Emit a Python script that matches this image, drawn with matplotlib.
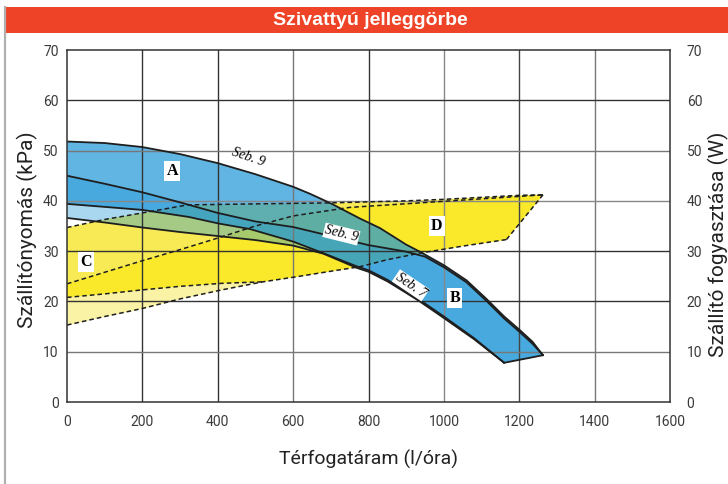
import matplotlib
matplotlib.use("Agg")
import matplotlib.pyplot as plt
from matplotlib.patches import Rectangle
from matplotlib.lines import Line2D

# ---------------- data ----------------
x_ticks = [0, 200, 400, 600, 800, 1000, 1200, 1400, 1600]
y_ticks = [0, 10, 20, 30, 40, 50, 60, 70]

# pump pressure curves (kPa)
h1_x = [0, 100, 200, 300, 400, 500, 600, 645, 700, 777, 830, 900, 936, 1000, 1060, 1113, 1160, 1200, 1235, 1263]
h1_y = [51.8, 51.5, 50.7, 49.3, 47.5, 45.3, 42.8, 41.4, 39.5, 36.5, 34.6, 31.3, 29.9, 27.2, 24.2, 20.5, 17.0, 14.4, 12.0, 9.3]
h2_x = [0, 100, 200, 300, 400, 500, 600, 700, 800, 900, 950, 1000, 1060, 1113, 1160, 1200, 1235, 1263]
h2_y = [45.0, 43.4, 41.7, 39.7, 37.6, 35.9, 34.8, 33.0, 31.2, 29.9, 28.9, 26.8, 23.8, 20.1, 16.6, 14.0, 11.6, 9.3]
l3_x = [0, 100, 200, 323, 402, 485, 600, 680, 768, 800, 850, 900, 936, 1000, 1080, 1160]
l3_y = [39.4, 38.8, 38.2, 36.8, 35.5, 34.4, 31.9, 29.6, 27.0, 26.2, 24.3, 22.0, 20.3, 17.0, 12.7, 7.8]
l4_x = [0, 100, 200, 300, 400, 500, 600, 680, 768, 800, 850, 900, 936, 1000, 1080, 1160]
l4_y = [36.6, 35.7, 34.7, 33.8, 33.0, 32.2, 31.1, 29.5, 26.7, 25.9, 24.0, 21.7, 20.0, 16.7, 12.5, 7.8]

# power consumption curves (W)
t_x = [0, 100, 200, 320, 500, 700, 900, 1000, 1100, 1200, 1263]
t_y = [34.7, 36.3, 37.6, 39.2, 39.4, 39.6, 40.0, 40.3, 40.7, 41.1, 41.2]
d1_x = [0, 100, 200, 300, 400, 500, 600, 750, 936, 1100, 1263]
d1_y = [23.5, 25.8, 28.1, 30.3, 32.6, 35.0, 37.0, 38.7, 39.6, 40.4, 41.2]
d2_x = [0, 100, 200, 300, 411, 520]
d2_y = [20.8, 21.5, 22.3, 23.0, 23.6, 23.9]
lb_x = [0, 100, 200, 300, 411, 520, 600, 700, 777, 850, 936, 1050, 1166]
lb_y = [15.3, 17.0, 18.6, 20.5, 22.3, 23.9, 24.8, 26.0, 26.9, 28.3, 29.6, 31.0, 32.3]

region_labels = ["A", "B", "C", "D"]
region_pos = [(279, 45.9), (1029, 20.7), (50, 27.8), (981, 35.0)]
seb_labels = ["Seb. 9", "Seb. 9", "Seb. 7"]
seb_pos = [(480, 48.6), (728, 33.4), (912, 23.2)]
seb_rot = [-19, -14, -34]
seb_box = [False, True, True]

# ---------------- figure ----------------
W, H = 728, 484
fig = plt.figure(figsize=(W / 100, H / 100), dpi=100)
fig.patch.set_facecolor("white")

# header bar and frame
fig.patches.append(Rectangle((5 / W, 1 - 33 / H), 1 - 5 / W, 26 / H, transform=fig.transFigure,
                             facecolor="#ee4326", edgecolor="none", zorder=0))
fig.lines.append(Line2D([5 / W, 5 / W], [0, 1 - 7 / H], transform=fig.transFigure,
                        color="#b0b0b0", lw=1.6))
fig.text(370 / W, 1 - 20.5 / H, "Szivattyú jelleggörbe", color="white", fontsize=14,
         fontweight="bold", family="Liberation Sans", ha="center", va="center")

ax = fig.add_axes([67 / W, 1 - 402 / H, (670 - 67) / W, (402 - 50) / H])
ax.set_xlim(0, 1600)
ax.set_ylim(0, 70)

# grid (drawn above fills, below curves)
vcols = ["#333333", "#333333", "#777777", "#333333", "#888888", "#444444", "#777777"]
for xv, c in zip(x_ticks[1:-1], vcols):
    ax.axvline(xv, color=c, lw=1.0, zorder=3)
hcols = ["#777777", "#333333", "#333333", "#888888", "#777777", "#333333"]
for yv, c in zip(y_ticks[1:-1], hcols):
    ax.axhline(yv, color=c, lw=1.0, zorder=3)

# yellow power regions
light_y = "#f7ea55"
bright_y = "#f9e92a"
pale_y = "#faf2a4"
ax.fill(t_x + [1166] + lb_x[::-1], t_y + [32.3] + lb_y[::-1], color=light_y, lw=0, zorder=1)
i520 = lb_x.index(520)
ax.fill(d1_x + lb_x[i520:][::-1] + d2_x[::-1], d1_y + lb_y[i520:][::-1] + d2_y[::-1],
        color=bright_y, lw=0, zorder=1.1)
ax.fill(d2_x + lb_x[:i520 + 1][::-1], d2_y + lb_y[:i520 + 1][::-1], color=pale_y, lw=0, zorder=1.2)

# blue pressure regions (semi transparent)
blue = (30 / 255, 150 / 255, 215 / 255)
ax.fill(h1_x + h2_x[::-1], h1_y + h2_y[::-1], color=blue, alpha=0.70, lw=0, zorder=2)
ax.fill(h2_x + l3_x[::-1], h2_y + l3_y[::-1], color=blue, alpha=0.82, lw=0, zorder=2)
ax.fill(l3_x + l4_x[::-1], l3_y + l4_y[::-1], color=blue, alpha=0.38, lw=0, zorder=2)

# curves
lc = "#1e1e1e"
for xs, ys in [(h1_x, h1_y), (h2_x, h2_y), (l3_x, l3_y), (l4_x, l4_y)]:
    ax.plot(xs, ys, color=lc, lw=1.3, zorder=5, solid_capstyle="round")
ax.plot([l3_x[-1], h1_x[-1]], [l3_y[-1], h1_y[-1]], color=lc, lw=1.3, zorder=5)

dash = dict(color="#1e1e1e", lw=1.1, ls=(0, (3, 2)), zorder=5)
ax.plot(t_x, t_y, **dash)
ax.plot(d1_x, d1_y, **dash)
ax.plot(d2_x, d2_y, **dash)
ax.plot(lb_x, lb_y, **dash)
ax.plot([lb_x[-1], t_x[-1]], [lb_y[-1], t_y[-1]], **dash)

# labels inside
for lab, (px, py) in zip(region_labels, region_pos):
    ax.text(px, py, lab, fontsize=11.5, fontweight="bold", family="Liberation Serif",
            ha="center", va="center", zorder=7,
            bbox=dict(facecolor="white", edgecolor="none", pad=1.5))
for lab, (px, py), r, bx in zip(seb_labels, seb_pos, seb_rot, seb_box):
    kw = {}
    if bx:
        kw["bbox"] = dict(facecolor="white", edgecolor="none", pad=0.6)
    ax.text(px, py, lab, fontsize=10, style="italic", family="Liberation Serif",
            ha="center", va="center", rotation=r, rotation_mode="anchor", zorder=7, **kw)

# axes styling
for s in ax.spines.values():
    s.set_color("#333333")
    s.set_linewidth(1.1)
    s.set_zorder(6)
tick_font = dict(family="Roboto", size=10, color="#3a3a3a")
ax.set_xticks(x_ticks)
ax.set_yticks(y_ticks)
ax.set_xticklabels([str(v) for v in x_ticks], **tick_font)
ax.set_yticklabels([str(v) for v in y_ticks], **tick_font)
ax.tick_params(axis="both", length=0)
ax.tick_params(axis="x", pad=9)
ax.tick_params(axis="y", pad=6)

ax2 = ax.twinx()
ax2.set_ylim(0, 70)
ax2.set_yticks(y_ticks)
ax2.set_yticklabels([str(v) for v in y_ticks], **tick_font)
ax2.tick_params(axis="y", length=0, pad=12)
for s in ax2.spines.values():
    s.set_visible(False)

ax.set_xlabel("Térfogatáram (l/óra)", family="Roboto", fontsize=14, color="#222222", labelpad=15)
fig.text(27 / W, 1 - 230 / H, "Szállítónyomás (kPa)", rotation=90, family="Roboto",
         fontsize=15, color="#222222", ha="center", va="center")
fig.text(718 / W, 1 - 244 / H, "Szállító fogyasztása (W)", rotation=90, family="Roboto",
         fontsize=15, color="#222222", ha="center", va="center")

fig.savefig("out.png", dpi=100, facecolor="white")
